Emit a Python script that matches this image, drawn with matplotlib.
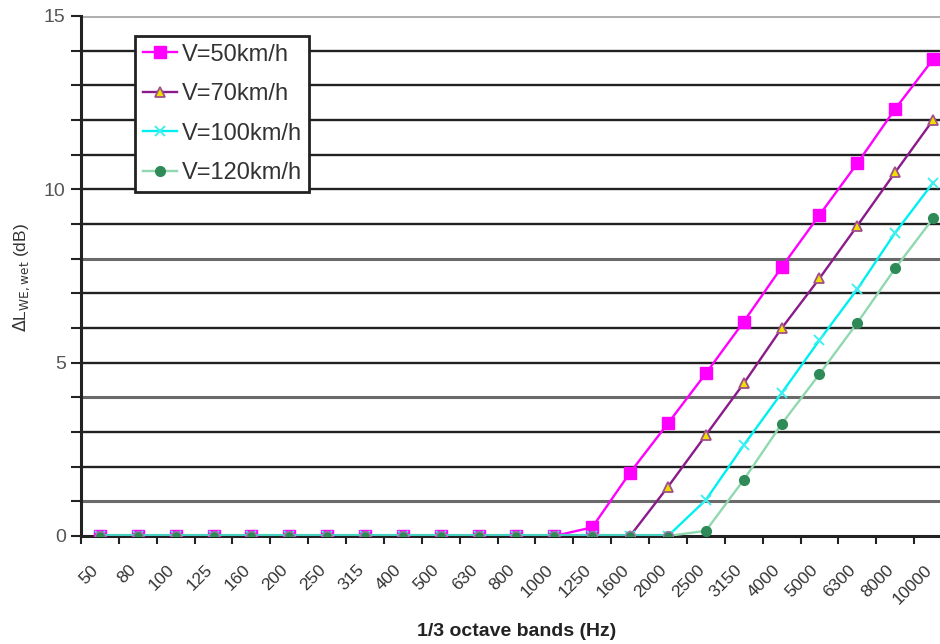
import matplotlib
matplotlib.use("Agg")
import matplotlib.pyplot as plt
import matplotlib.transforms as mtransforms

# ---------- data ----------
bands = ['50', '80', '100', '125', '160', '200', '250', '315', '400', '500',
         '630', '800', '1000', '1250', '1600', '2000', '2500', '3150', '4000',
         '5000', '6300', '8000', '10000']

zeros13 = [0.0] * 13
v50 = zeros13 + [0.25, 1.83, 3.25, 4.69, 6.18, 7.75, 9.26, 10.75, 12.32, 13.75]
v70 = zeros13 + [0.0, 0.0, 1.42, 2.91, 4.40, 5.99, 7.43, 8.95, 10.49, 12.0]
v100 = zeros13 + [0.0, 0.0, 0.0, 1.04, 2.62, 4.12, 5.65, 7.12, 8.75, 10.19]
v120 = zeros13 + [0.0, 0.0, 0.0, 0.15, 1.62, 3.23, 4.67, 6.15, 7.72, 9.16]

labels = ['V=50km/h', 'V=70km/h', 'V=100km/h', 'V=120km/h']

plt.rcParams['font.family'] = ['Liberation Sans', 'DejaVu Sans']

W, H = 940, 644
fig = plt.figure(figsize=(W / 100, H / 100), dpi=100)
fig.patch.set_facecolor('white')

# axes placed in pixels: left spine at x=81, y=0 at 536, y=15 at 16
ax = fig.add_axes([81 / W, 1 - 536 / H, 871 / W, 520 / H])
x = list(range(len(bands)))

# ---------- grid lines (one per dB) ----------
grid_col = {1: '#6a6a6a', 4: '#6a6a6a', 8: '#6a6a6a', 15: '#b0b0b0'}
for lvl in range(1, 16):
    ax.axhline(lvl, color=grid_col.get(lvl, '#222222'),
               lw=2.2 if lvl in grid_col else 1.7, zorder=1)

# ---------- series ----------
ax.plot(x, v50, color='#ff00ff', lw=1.7, marker='s', ms=8.5,
        mec='#ff00ff', mfc='#ff00ff', label=labels[0], zorder=3)
ax.plot(x, v70, color='#8b1a8b', lw=1.7, marker='^', ms=7.5,
        mec='#a0508a', mfc='#f0e000', mew=1.3, label=labels[1], zorder=3)
ax.plot(x, v100, color='#00f0f0', lw=1.7, marker='x', ms=7.5,
        mec='#40f0f0', mew=1.4, label=labels[2], zorder=3)
ax.plot(x, v120, color='#90d8b0', lw=1.7, marker='o', ms=7,
        mec='#2e8b57', mfc='#2e8b57', label=labels[3], zorder=3)
# overlapping zero run reads turquoise in the reference
ax.plot(x[:16], v120[:16], color='#48d1c0', lw=3, zorder=3.5)
ax.plot(x[:16], v120[:16], ls='none', marker='o', ms=7,
        mec='#c070c0', mew=0.8, mfc='#2e8b57', zorder=4)

# ---------- axes ----------
ax.set_xlim(-0.5, len(bands) - 0.5)
ax.set_ylim(0, 15)
ax.set_yticks([0, 5, 10, 15])
ax.set_yticks(range(16), minor=True)
ax.tick_params(axis='y', which='both', length=7, width=1.5, color='#222222',
               labelsize=14, labelcolor='#555555', pad=4)

ax.set_xticks([i + 0.5 for i in range(-1, len(bands))], minor=True)
ax.set_xticks(x)
ax.set_xticklabels(bands, rotation=45, ha='right', rotation_mode='anchor',
                   fontsize=12.5, color='#333333')
ax.tick_params(axis='x', which='major', length=0, pad=19)
ax.tick_params(axis='x', which='minor', length=5.5, width=1.5, color='#222222')
shift = mtransforms.ScaledTranslation(-9 / 100, 0, fig.dpi_scale_trans)
for lab in ax.get_xticklabels():
    lab.set_transform(lab.get_transform() + shift)

for s in ['top', 'right']:
    ax.spines[s].set_visible(False)
ax.spines['left'].set_linewidth(2.2)
ax.spines['left'].set_color('#222222')
ax.spines['bottom'].set_linewidth(2.2)
ax.spines['bottom'].set_color('#222222')
ax.set_axisbelow(False)

fig.text(517 / W, 1 - 632 / H, '1/3 octave bands (Hz)', ha='center',
         va='center', fontsize=14, fontweight='bold', color='#222222')
fig.text(22 / W, 1 - 278 / H, r'$\Delta$L$_{\rm WE,wet}$ (dB)', ha='center',
         va='center', rotation=90, fontsize=12.5, color='#333333')

# ---------- legend ----------
leg = ax.legend(loc='upper left', bbox_to_anchor=(135 / W, 1 - 36 / H),
                bbox_transform=fig.transFigure, fontsize=17, frameon=True,
                fancybox=False, borderpad=0.32, labelspacing=0.74,
                handlelength=1.45, handletextpad=0.2, borderaxespad=0)
leg.get_frame().set_edgecolor('#222222')
leg.get_frame().set_linewidth(2)
leg.get_frame().set_facecolor('white')
leg.get_frame().set_alpha(1)
for t in leg.get_texts():
    t.set_color('#333333')

fig.savefig('out.png', dpi=100)
